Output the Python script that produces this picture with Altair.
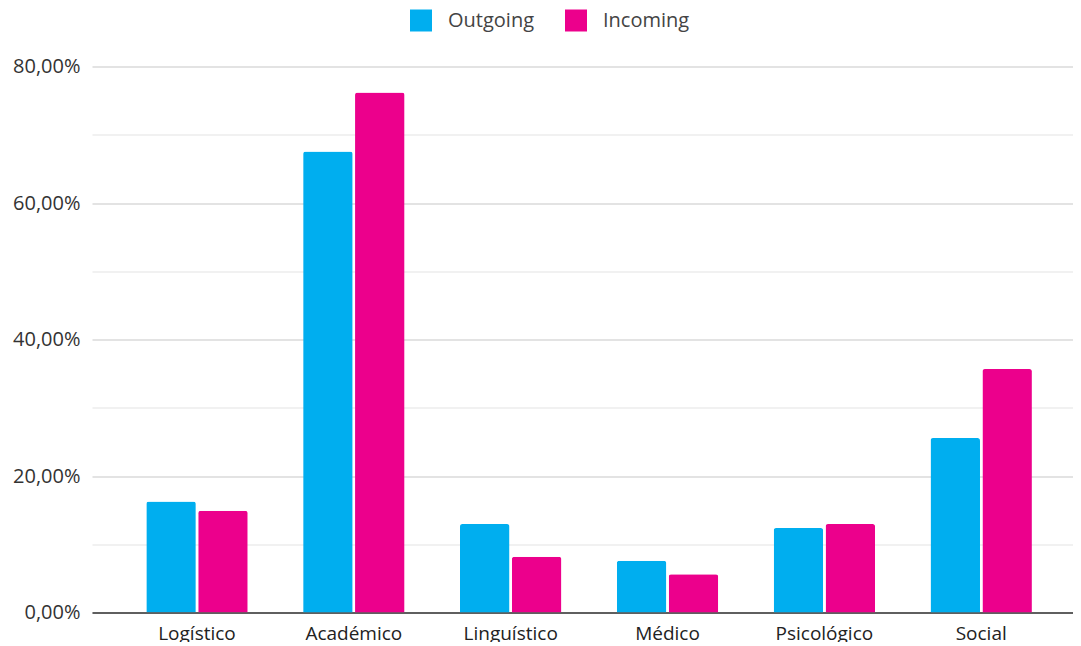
import altair as alt
import pandas as pd

categories = ["Logístico", "Académico", "Linguístico", "Médico", "Psicológico", "Social"]
outgoing = [0.1626, 0.6755, 0.1295, 0.0757, 0.1237, 0.2555]
incoming = [0.1490, 0.7620, 0.0816, 0.0562, 0.1295, 0.3566]
series = ["Outgoing", "Incoming"]
colors = ["#00AEEF", "#EC008C"]
y_ticks = [0, 0.1, 0.2, 0.3, 0.4, 0.5, 0.6, 0.7, 0.8]

rows = []
for c, o, i in zip(categories, outgoing, incoming):
    rows.append({"cat": c, "series": "Outgoing", "value": o})
    rows.append({"cat": c, "series": "Incoming", "value": i})
df = pd.DataFrame(rows)

FONT = "Open Sans"

chart = alt.Chart(df).mark_bar(cornerRadiusTopLeft=2.5, cornerRadiusTopRight=2.5).encode(
    x=alt.X("cat:N", sort=categories, title=None,
            scale=alt.Scale(paddingInner=0, paddingOuter=0.1274, align=0.665),
            axis=alt.Axis(labelAngle=0, labelFontSize=19, labelColor="#222222",
                          labelFont=FONT, labelPadding=12, ticks=False,
                          domainColor="#333333", domainWidth=1.6, grid=False)),
    xOffset=alt.XOffset("series:N", sort=series,
                        scale=alt.Scale(paddingInner=0.046, paddingOuter=0.534)),
    y=alt.Y("value:Q", title=None,
            scale=alt.Scale(domain=[0, 0.8], nice=False),
            axis=alt.Axis(values=y_ticks, domain=False, ticks=False,
                          labelExpr="round(datum.value*10) % 2 == 0 ? replace(format(datum.value, '.2%'), '.', ',') : ''",
                          labelFontSize=20, labelColor="#333333", labelFont=FONT,
                          labelPadding=12,
                          gridColor={"condition": {"test": "round(datum.value*10) % 2 == 0", "value": "#C8C8C8"}, "value": "#E3E3E3"},
                          gridWidth=1.2)),
    color=alt.Color("series:N", sort=series, title=None,
                    scale=alt.Scale(domain=series, range=colors),
                    legend=alt.Legend(orient="none", direction="horizontal",
                                      legendX=318, legendY=-57,
                                      symbolType="square", symbolSize=484,
                                      symbolStrokeWidth=0, symbolOpacity=1,
                                      labelFontSize=20, labelColor="#444444",
                                      labelFont=FONT, labelOffset=16,
                                      columnPadding=30, padding=0)),
).properties(
    width=981, height=546,
    autosize=alt.AutoSizeParams(type="none"),
    padding={"left": 84, "top": 58.5, "right": 0, "bottom": 29},
).configure_view(stroke=None)

chart.save("out.html", embed_options={"renderer": "svg", "actions": False})
